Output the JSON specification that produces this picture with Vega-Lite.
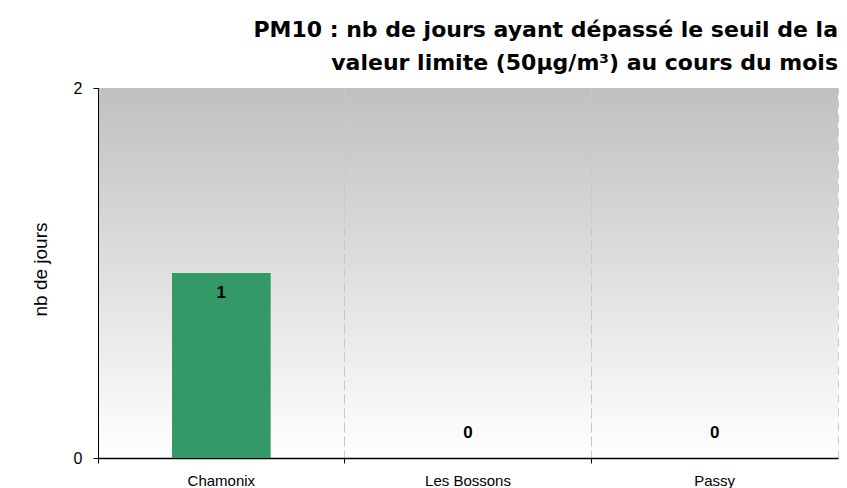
{
  "$schema": "https://vega.github.io/schema/vega-lite/v6.json",
  "width": 740,
  "height": 370,
  "autosize": {"type": "none"},
  "padding": {"left": 98, "top": 88, "right": 9, "bottom": 30},
  "background": "#ffffff",
  "title": {
    "text": ["PM10 : nb de jours ayant dépassé le seuil de la", "valeur limite (50µg/m³) au cours du mois"],
    "anchor": "end",
    "frame": "group",
    "font": "DejaVu Sans",
    "fontSize": 22,
    "fontWeight": "bold",
    "color": "#000000",
    "lineHeight": 33,
    "offset": 5
  },
  "data": {
    "values": [
      {"site": "Chamonix", "jours": 1},
      {"site": "Les Bossons", "jours": 0},
      {"site": "Passy", "jours": 0}
    ]
  },
  "config": {
    "view": {
      "stroke": null,
      "fill": {
        "gradient": "linear",
        "x1": 0, "y1": 0, "x2": 0, "y2": 1,
        "stops": [
          {"offset": 0, "color": "#c0c0c0"},
          {"offset": 1, "color": "#ffffff"}
        ]
      }
    }
  },
  "resolve": {"axis": {"x": "independent"}},
  "encoding": {
    "y": {
      "field": "jours",
      "type": "quantitative",
      "scale": {"domain": [0, 2], "nice": false},
      "axis": {
        "title": "nb de jours",
        "titleFont": "Liberation Sans",
        "titleFontSize": 19,
        "titleFontWeight": "normal",
        "titleColor": "#000000",
        "titlePadding": 23,
        "titleY": 181,
        "values": [0, 2],
        "labelFont": "Liberation Sans",
        "labelFontSize": 16,
        "labelColor": "#000000",
        "labelPadding": 11,
        "tickSize": 5,
        "tickColor": "#000000",
        "domainColor": "#000000",
        "domainWidth": 1,
        "grid": false
      }
    }
  },
  "layer": [
    {
      "mark": {"type": "bar", "color": "#339966", "width": {"band": 0.4}},
      "encoding": {
        "x": {
          "field": "site",
          "type": "nominal",
          "sort": null,
          "scale": {"paddingInner": 0, "paddingOuter": 0},
          "axis": {
            "title": null,
            "labelAngle": 0,
            "labelFont": "Liberation Sans",
            "labelFontSize": 15,
            "labelColor": "#000000",
            "labelPadding": 10,
            "bandPosition": 0,
            "ticks": true,
            "tickSize": 5,
            "tickColor": "#000000",
            "domainColor": "#000000",
            "domainWidth": 1.5,
            "grid": true,
            "gridDash": [8, 6],
            "gridColor": "#c8c8c8",
            "gridWidth": 1
          }
        }
      }
    },
    {
      "transform": [{"filter": "datum.jours > 0"}],
      "mark": {"type": "text", "font": "Liberation Sans", "fontSize": 17, "fontWeight": "bold", "color": "#000000", "baseline": "middle", "dy": 20},
      "encoding": {
        "x": {
          "field": "site",
          "type": "nominal",
          "sort": null,
          "axis": {
            "orient": "top",
            "title": null,
            "labels": false,
            "ticks": false,
            "domain": false,
            "bandPosition": 1,
            "grid": true,
            "gridDash": [8, 6],
            "gridColor": "#c8c8c8",
            "gridWidth": 1
          }
        },
        "text": {"field": "jours", "type": "quantitative"}
      }
    },
    {
      "transform": [{"filter": "datum.jours == 0"}],
      "mark": {"type": "text", "font": "Liberation Sans", "fontSize": 17, "fontWeight": "bold", "color": "#000000", "baseline": "middle", "dy": -25},
      "encoding": {
        "x": {"field": "site", "type": "nominal", "sort": null, "axis": null},
        "text": {"field": "jours", "type": "quantitative"}
      }
    }
  ]
}
